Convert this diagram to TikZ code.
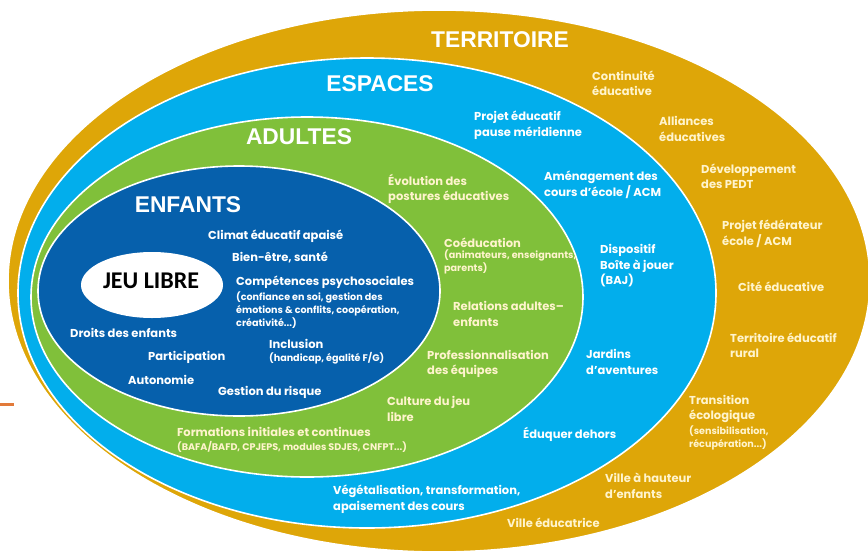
\documentclass[tikz,border=0pt]{standalone}
\usepackage{fontspec}
\usetikzlibrary{shapes.geometric}
\setmainfont{Poppins}
\newfontfamily\headf{Liberation Sans}
\newfontfamily\jeuf{Carlito}
\definecolor{gold}{RGB}{222,166,8}
\definecolor{sky}{RGB}{2,174,236}
\definecolor{leaf}{RGB}{128,192,58}
\definecolor{navy}{RGB}{6,96,172}
\definecolor{cream}{RGB}{255,244,205}
\definecolor{orangeline}{RGB}{226,122,58}
\begin{document}
\begin{tikzpicture}[x=1pt,y=-1pt,
  ring/.style={draw=white,line width=1.6pt},
  head/.style={text=white,font=\headf\bfseries\fontsize{22.8}{24}\selectfont,inner sep=0},
  txt/.style={text=white,font=\bfseries\fontsize{11.5}{15.5}\selectfont,align=left,anchor=west,inner sep=0},
  sml/.style={text=white,font=\bfseries\fontsize{9.6}{13}\selectfont,align=left,anchor=west,inner sep=0},
  ctxt/.style={txt,text=cream},
  csml/.style={sml,text=cream}]
\useasboundingbox (0,0) rectangle (868,555);
% rings
\path[ring,fill=gold] (439,281) ellipse [x radius=431,y radius=271];
\path[ring,fill=sky] (367,293) ellipse [x radius=349,y radius=235];
\path[ring,fill=leaf] (307,297) ellipse [x radius=276,y radius=180];
\path[ring,fill=navy] (239,291) ellipse [x radius=201,y radius=125];
\node[fill=white,ellipse,minimum width=142,minimum height=66,inner sep=0] (jeuell) at (152,285) {};
\coordinate (d1) at (0,404);
\coordinate (d2) at (14,404);
\draw[orangeline,line width=3pt] (d1) -- (d2);
% headers
\node[head] (territoire) at (500,40) {TERRITOIRE};
\node[head] (espaces) at (380,84) {ESPACES};
\node[head] (adultes) at (299,137) {ADULTES};
\node[head] (enfants) at (188,205) {ENFANTS};
\node[font=\jeuf\bfseries\fontsize{24}{26}\selectfont,inner sep=0] (jeu) at (151,281) {JEU LIBRE};
% enfants
\node[txt] (climat) at (208,236) {Climat éducatif apaisé};
\node[txt] (bien) at (232,257) {Bien-être, santé};
\node[txt] (comp) at (236,282) {Compétences psychosociales};
\node[sml] (compd) at (236,310) {(confiance en soi, gestion des\\émotions \& conflits, coopération,\\créativité...)};
\node[txt] (droits) at (70,333) {Droits des enfants};
\node[txt] (incl) at (269,344) {Inclusion};
\node[sml] (incld) at (269,358) {(handicap, égalité F/G)};
\node[txt] (partic) at (148,357) {Participation};
\node[txt] (auto) at (128,380) {Autonomie};
\node[txt] (gest) at (218,392) {Gestion du risque};
% adultes
\node[ctxt] (evol) at (388,189) {Évolution des\\postures éducatives};
\node[ctxt] (coed) at (444,243) {Coéducation};
\node[csml] (coedd) at (444,262) {(animateurs, enseignants,\\parents)};
\node[ctxt] (relat) at (453,314) {Relations adultes–\\enfants};
\node[ctxt] (prof) at (427,364) {Professionnalisation\\des équipes};
\node[ctxt] (cult) at (387,409) {Culture du jeu\\libre};
\node[ctxt] (form) at (177,432) {Formations initiales et continues};
\node[csml] (formd) at (177,447) {(BAFA/BAFD, CPJEPS, modules SDJES, CNFPT...)};
% espaces
\node[txt] (pause) at (474,125) {Projet éducatif\\pause méridienne};
\node[txt] (amen) at (544,185) {Aménagement des\\cours d'école / ACM};
\node[txt] (disp) at (600,266) {Dispositif\\Boîte à jouer\\(BAJ)};
\node[txt] (jard) at (586,362) {Jardins\\d'aventures};
\node[txt] (dehors) at (523,434) {Éduquer dehors};
\node[txt] (veget) at (333,499) {Végétalisation, transformation,\\apaisement des cours};
% territoire
\node[ctxt] (contin) at (592,83) {Continuité\\éducative};
\node[ctxt] (allian) at (659,129) {Alliances\\éducatives};
\node[ctxt] (devel) at (701,176) {Développement\\des PEDT};
\node[ctxt] (projfed) at (722,234) {Projet fédérateur\\école / ACM};
\node[ctxt] (cite) at (738,287) {Cité éducative};
\node[ctxt] (terr) at (730,345) {Territoire éducatif\\rural};
\node[ctxt] (trans) at (689,409) {Transition\\écologique};
\node[csml] (transd) at (689,438) {(sensibilisation,\\récupération...)};
\node[ctxt] (ville) at (605,486) {Ville à hauteur\\d'enfants};
\node[ctxt] (villeed) at (507,523) {Ville éducatrice};
\end{tikzpicture}
\end{document}
